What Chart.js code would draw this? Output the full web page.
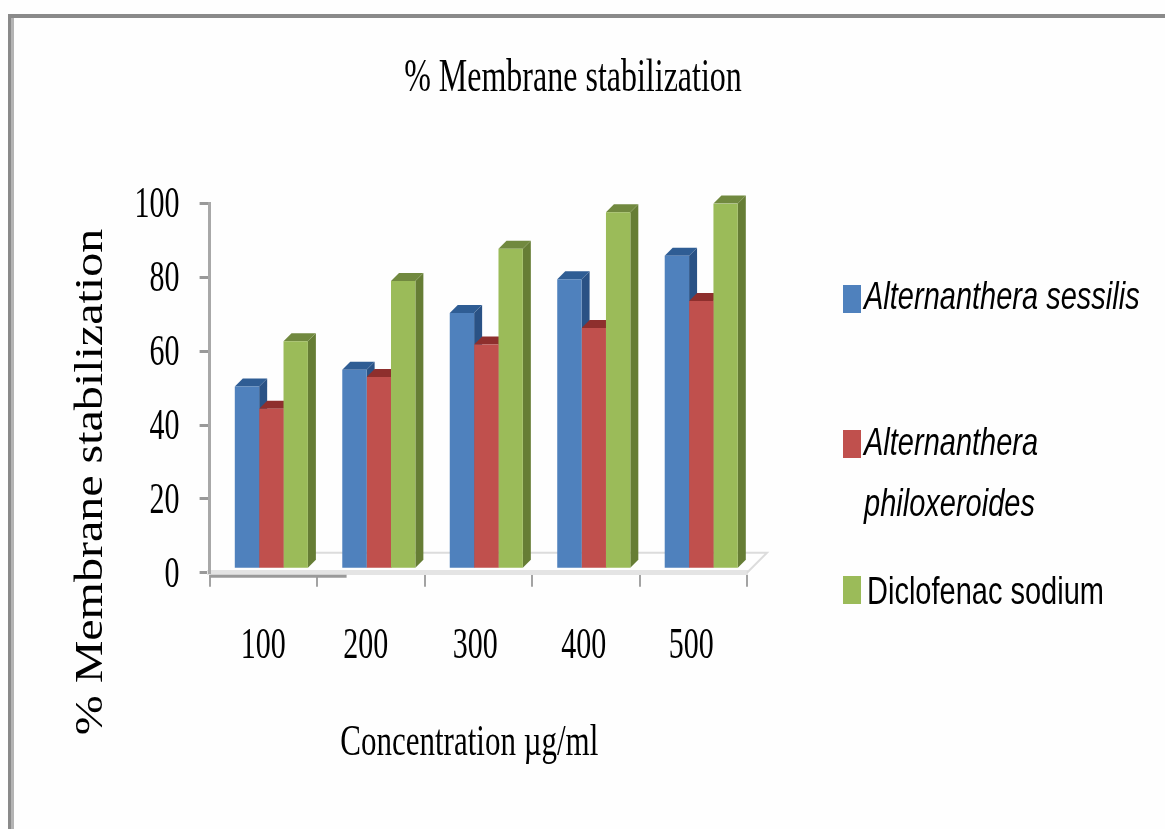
<!DOCTYPE html>
<html>
<head>
<meta charset="utf-8">
<title>% Membrane stabilization</title>
<script src="https://cdn.jsdelivr.net/npm/chart.js@4"></script>
<style>
    html, body { margin: 0; padding: 0; background: #fefefe; overflow: hidden; }
    #wrap { position: relative; width: 1165px; height: 829px; }
</style>
</head>
<body>
<div id="wrap"><canvas id="membraneChart" width="1165" height="829"></canvas></div>
<script>
const categories = ["100", "200", "300", "400", "500"];
const sessilis = [50.4, 55, 70.3, 79.5, 85.8];
const philoxeroides = [44.4, 53, 61.8, 66.3, 73.6];
const diclofenac = [62.7, 79, 87.7, 97.6, 100];
const yTicks = [0, 20, 40, 60, 80, 100];

const chartTitle = "% Membrane stabilization";
const xTitle = "Concentration µg/ml";
const yTitle = "% Membrane stabilization";

/* the bars stand a little in front of the axis, on the 3D floor */
const depth = 8;
const frontShift = 8;
const floorBase = 1.4;

const faces = ["#4f81bd", "#c0504d", "#9bbb59"];
const caps = ["#2f5d94", "#8e2f2d", "#71893f"];
const sides = ["#2a5285", "#7f2a28", "#667d35"];

/* glyph stretch and baseline shifts, looked up by font size */
const textFit = {
    "32px": { dx: 171, dy: 3, sy: 1.45 },
    "48px": { dx: -94, dy: 5, sy: 0.85 },
    "31px": { dx: -9, dy: 0, sy: 1.45 },
    "30px": { dx: 0, dy: 2, sy: 1.5 },
    "29px": { dx: 0, dy: 0, sy: 1.35 }
};
const labelNudge = { "200": -5, "300": -3, "400": -2, "500": -2 };

const canvas = document.getElementById("membraneChart");
const ctx = canvas.getContext("2d");
const plainFill = ctx.fillText;

ctx.fillText = function (text, x, y, maxWidth) {
    const size = this.font.match(/\d+px/)[0];
    const fit = textFit[size] || { dx: 0, dy: 0, sy: 1 };
    const nudge = labelNudge[text] || 0;
    this.save();
    this.translate(x + fit.dx + nudge, y + fit.dy);
    this.scale(1, fit.sy);
    if (maxWidth === undefined) plainFill.call(this, text, 0, 0);
    else plainFill.call(this, text, 0, 0, maxWidth);
    this.restore();
};

/* outer frame of the figure */
const framePlugin = {
    id: "frame",
    beforeDraw(chart) {
        const c = chart.ctx;
        c.save();
        c.fillStyle = "#8a8a8a";
        c.fillRect(8, 14, chart.width - 8, 4);
        c.fillRect(8, 14, 3, chart.height - 14);
        c.fillStyle = "#b4b4b4";
        c.fillRect(11, 18, 3, chart.height - 18);
        c.restore();
    }
};

/* floor, bar caps and bar sides; the library draws the front faces over them */
const depthPlugin = {
    id: "depth",
    beforeDatasetsDraw(chart) {
        const c = chart.ctx;
        const area = chart.chartArea;
        const zero = chart.scales.y.getPixelForValue(0);

        c.save();
        c.strokeStyle = "#dcdcdc";
        c.lineWidth = 2;
        c.beginPath();
        c.moveTo(area.left + 100, zero - 20);
        c.lineTo(area.right + 20, zero - 20);
        c.lineTo(area.right, zero);
        c.stroke();
        c.strokeStyle = "#9a9a9a";
        c.lineWidth = 3;
        c.beginPath();
        c.moveTo(area.left, zero + 3.5);
        c.lineTo(area.left + 137, zero + 3.5);
        c.stroke();
        c.restore();

        c.save();
        c.translate(frontShift, 0);
        chart.data.datasets.forEach((set, i) => {
            chart.getDatasetMeta(i).data.forEach(bar => {
                const half = bar.width / 2;
                const left = bar.x - half;
                const right = bar.x + half;
                c.fillStyle = sides[i];
                c.beginPath();
                c.moveTo(right, bar.y);
                c.lineTo(right + depth, bar.y - depth);
                c.lineTo(right + depth, bar.base - depth);
                c.lineTo(right, bar.base);
                c.closePath();
                c.fill();
                c.fillStyle = caps[i];
                c.beginPath();
                c.moveTo(left, bar.y);
                c.lineTo(left + depth, bar.y - depth);
                c.lineTo(right + depth, bar.y - depth);
                c.lineTo(right, bar.y);
                c.closePath();
                c.fill();
            });
        });
    },
    afterDatasetsDraw(chart) {
        chart.ctx.restore();
    }
};

/* legend to the right of the plot, one entry runs over two lines */
const legendEntries = [
    { lines: ["Alternanthera sessilis"], italic: true, boxY: 285, textY: 298 },
    { lines: ["Alternanthera", "philoxeroides"], italic: true, boxY: 430, textY: 444 },
    { lines: ["Diclofenac sodium"], italic: false, boxY: 576, textY: 593 }
];

const legendPlugin = {
    id: "sideLegend",
    afterDraw(chart) {
        const c = chart.ctx;
        c.save();
        legendEntries.forEach((entry, i) => {
            c.fillStyle = faces[i];
            c.fillRect(843, entry.boxY, 18, 28);
            c.fillStyle = "#000";
            c.font = (entry.italic ? "italic " : "") + "29px 'Liberation Sans'";
            c.textBaseline = "middle";
            c.textAlign = "left";
            entry.lines.forEach((line, j) => {
                c.fillText(line, entry.italic ? 864 : 867, entry.textY + j * 61);
            });
        });
        c.restore();
    }
};

new Chart(canvas, {
    type: "bar",
    data: {
        labels: categories,
        datasets: [
            { label: "Alternanthera sessilis", data: sessilis, backgroundColor: faces[0], base: floorBase },
            { label: "Alternanthera philoxeroides", data: philoxeroides, backgroundColor: faces[1], base: floorBase },
            { label: "Diclofenac sodium", data: diclofenac, backgroundColor: faces[2], base: floorBase }
        ]
    },
    options: {
        responsive: false,
        animation: false,
        events: [],
        layout: { padding: { left: 57, right: 418, top: 0, bottom: 67 } },
        datasets: { bar: { categoryPercentage: 0.68, barPercentage: 1 } },
        plugins: {
            legend: { display: false },
            tooltip: { enabled: false },
            title: {
                display: true,
                text: chartTitle,
                color: "#000",
                font: { family: "'Liberation Serif'", size: 32, weight: "normal" },
                padding: { top: 57, bottom: 108 }
            }
        },
        scales: {
            x: {
                grid: { drawOnChartArea: false, color: "#a3a3a3", lineWidth: 2, tickLength: 14 },
                border: { color: "#e4e4e4", width: 5 },
                ticks: {
                    color: "#000",
                    padding: 39,
                    maxRotation: 0,
                    font: { family: "'Liberation Serif'", size: 30 }
                },
                title: {
                    display: true,
                    text: xTitle,
                    color: "#000",
                    padding: { top: 24, bottom: 0 },
                    font: { family: "'Liberation Serif'", size: 31 }
                }
            },
            y: {
                min: 0,
                max: 100,
                afterBuildTicks(axis) {
                    axis.ticks = yTicks.map(value => ({ value }));
                },
                grid: { drawOnChartArea: false, color: "#999", lineWidth: 3, tickLength: 10 },
                border: { color: "#a8a8a8", width: 3 },
                ticks: {
                    color: "#000",
                    padding: 20,
                    font: { family: "'Liberation Serif'", size: 30 }
                },
                title: {
                    display: true,
                    text: yTitle,
                    color: "#000",
                    padding: { top: 0, bottom: 0 },
                    font: { family: "'Liberation Serif'", size: 48 }
                }
            }
        }
    },
    plugins: [framePlugin, depthPlugin, legendPlugin]
});
</script>
</body>
</html>
